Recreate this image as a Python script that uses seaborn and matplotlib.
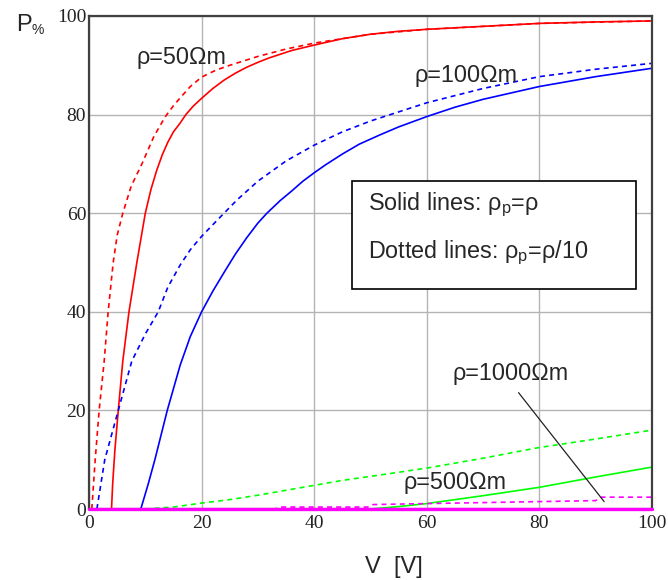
import numpy as np
import pandas as pd
import matplotlib
matplotlib.use("Agg")
import matplotlib.pyplot as plt
import seaborn as sns
from matplotlib.patches import Rectangle

# ---- data ----
v_r50_solid = [0, 4.0, 4.2, 4.6, 5.2, 6.0, 7.1, 8.5, 10, 11, 12, 13, 14, 15, 16.2, 17.2, 18.5, 20, 22, 24, 26, 28, 30, 32, 36, 40, 45, 50, 55, 60, 70, 80, 90, 100]
p_r50_solid = [0, 0, 5, 12, 20, 30, 40, 50, 60, 64.8, 68.6, 71.8, 74.4, 76.5, 78.3, 80, 81.7, 83.3, 85.3, 87, 88.4, 89.6, 90.6, 91.5, 93, 94.1, 95.4, 96.3, 96.9, 97.3, 97.9, 98.5, 98.8, 99.0]

v_r50_dot = [0.5, 1.1, 1.8, 2.7, 3.4, 4.3, 5.0, 6.0, 7.5, 9.4, 11.5, 13.5, 15, 16.2, 18, 20, 22.5, 25, 30, 35, 40, 50, 60, 80, 100]
p_r50_dot = [0, 10, 20, 30, 40, 50, 55.5, 60, 65.5, 70, 75.5, 79.5, 81.8, 83.4, 85.7, 87.6, 89, 90, 91.8, 93.3, 94.5, 96.3, 97.3, 98.5, 99.0]

v_r100_solid = [0, 9.2, 10.5, 11.7, 13.9, 16.2, 18, 20, 22, 24, 26, 28, 30, 31.6, 34, 36, 38, 40, 42, 45, 48, 51.7, 55, 60, 65, 70, 80, 90, 100]
p_r100_solid = [0, 0, 5, 10, 20, 29.2, 35, 40, 44.2, 48, 51.7, 55, 58, 60, 62.6, 64.5, 66.5, 68.2, 69.8, 72, 74, 75.9, 77.5, 79.6, 81.5, 83.1, 85.7, 87.7, 89.4]

v_r100_dot = [1.4, 2.8, 5.2, 7.6, 10, 12.3, 14, 16.2, 18, 20, 23.3, 26.3, 30, 35, 40, 45, 50, 60, 70, 80, 90, 100]
p_r100_dot = [0, 10, 20, 30, 35.5, 40, 45, 49.5, 52.6, 55.3, 59.2, 62.7, 66.5, 70.6, 73.8, 76.5, 78.7, 82.4, 85.3, 87.7, 89.2, 90.4]

v_r500_dot = [10, 15, 20, 25, 30, 35, 40, 45, 51.7, 60, 70, 79.6, 90, 100]
p_r500_dot = [0, 0.4, 1.2, 1.9, 2.8, 3.8, 4.8, 5.8, 6.9, 8.3, 10.3, 12.4, 14.2, 16.0]

v_r500_solid = [0, 50, 55, 60, 70, 80, 90, 100]
p_r500_solid = [0, 0, 0.5, 1.1, 2.7, 4.4, 6.5, 8.5]

v_r1000_dot = [0, 33, 34, 49.5, 50.5, 60, 70, 80, 90, 91, 100]
p_r1000_dot = [0, 0, 0.4, 0.4, 0.9, 1.1, 1.3, 1.5, 1.7, 2.4, 2.4]

v_r1000_solid = [0, 100]
p_r1000_solid = [0, 0]

x_ticks = [0, 20, 40, 60, 80, 100]
y_ticks = [0, 20, 40, 60, 80, 100]

# ---- figure ----
sns.set_theme(style="white")
plt.rcParams['font.family'] = ['Liberation Sans', 'DejaVu Sans']

W, H = 668, 580
fig = plt.figure(figsize=(W / 100, H / 100), dpi=100)
ax = fig.add_axes([89 / W, 1 - 509 / H, (652 - 89) / W, (509 - 16) / H])

dash = (0, (3, 2.5))
series = [
    (v_r50_dot, p_r50_dot, "#ff0000", dash, 1.2),
    (v_r50_solid, p_r50_solid, "#ff0000", "-", 1.2),
    (v_r100_dot, p_r100_dot, "#0000ff", dash, 1.2),
    (v_r100_solid, p_r100_solid, "#0000ff", "-", 1.2),
    (v_r500_dot, p_r500_dot, "#00ff00", dash, 1.2),
    (v_r500_solid, p_r500_solid, "#00ff00", "-", 1.2),
    (v_r1000_dot, p_r1000_dot, "#ff00ff", dash, 1.2),
]
for vx, py, col, ls, lw in series:
    sns.lineplot(x=vx, y=py, ax=ax, color=col, linestyle=ls, linewidth=lw,
                 sort=False, estimator=None)

sns.lineplot(x=v_r1000_solid, y=p_r1000_solid, ax=ax, color="#ff00ff",
             linewidth=2.4, sort=False, estimator=None)
ax.lines[-1].set_clip_on(False)
ax.lines[-1].set_zorder(5)

ax.set_xlim(0, 100)
ax.set_ylim(0, 100)
ax.set_xticks(x_ticks)
ax.set_yticks(y_ticks)
ax.set_xticklabels([str(t) for t in x_ticks], family='Liberation Serif', fontsize=14)
ax.set_yticklabels([str(t) for t in y_ticks], family='Liberation Serif', fontsize=14)
ax.tick_params(axis='both', length=0, colors='#222222')
ax.tick_params(axis='x', pad=4)
ax.tick_params(axis='y', pad=2)
ax.grid(True, color='#b4b4b4', linewidth=1.0)
ax.set_axisbelow(True)
for s in ax.spines.values():
    s.set_color('#404040')
    s.set_linewidth(1.6)
ax.set_xlabel("")
ax.set_ylabel("")

# legend-like box
ax.add_patch(Rectangle((46.7, 44.6), 97.2 - 46.7, 66.6 - 44.6, facecolor='white',
                       edgecolor='black', linewidth=1.2, zorder=6))
fs_box = 16.8
ax.text(49.6, 61.7, "Solid lines: ρ$_\\mathregular{p}$=ρ", fontsize=fs_box, va='center', ha='left', zorder=7)
ax.text(49.6, 51.9, "Dotted lines: ρ$_\\mathregular{p}$=ρ/10", fontsize=fs_box, va='center', ha='left', zorder=7)

fs_lab = 16.8
ax.text(8.5, 91.5, "ρ=50Ωm", fontsize=fs_lab, va='center', ha='left')
ax.text(57.9, 88.0, "ρ=100Ωm", fontsize=fs_lab, va='center', ha='left')
ax.text(64.5, 27.4, "ρ=1000Ωm", fontsize=fs_lab, va='center', ha='left')
ax.text(55.8, 5.3, "ρ=500Ωm", fontsize=fs_lab, va='center', ha='left')
ax.plot([76.3, 91.5], [23.6, 1.5], color='#222222', linewidth=0.9)

fig.text(16 / W, 1 - 25 / H, "P", fontsize=17, ha='left', va='center')
fig.text(32 / W, 1 - 30 / H, "%", fontsize=10, ha='left', va='center')
fig.text(393.5 / W, 1 - 567 / H, "V  [V]", fontsize=17, ha='center', va='center')

fig.savefig("out.png", dpi=100)
